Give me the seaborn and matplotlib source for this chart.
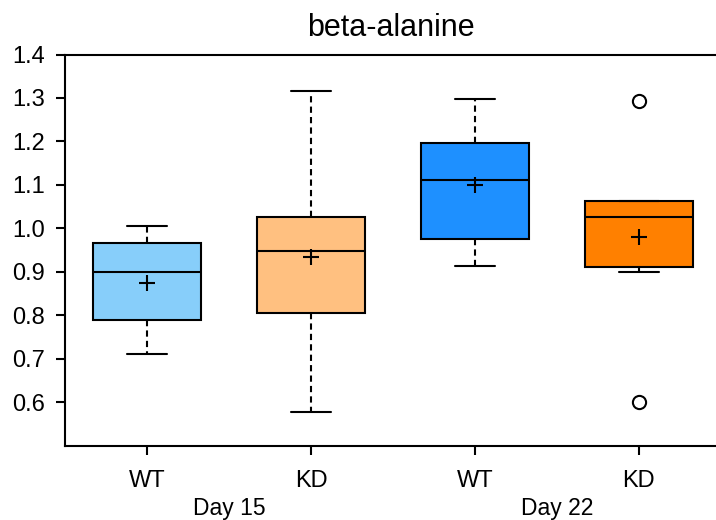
import pandas as pd
import matplotlib.pyplot as plt
import seaborn as sns

# 数据
groups = ['D15_WT', 'D15_KD', 'D22_WT', 'D22_KD']
tick_labels = ['WT', 'KD', 'WT', 'KD']
day_labels = ['Day 15', 'Day 22']
colors = ['#87CEFA', '#FFC080', '#1E90FF', '#FF8000']

d15_wt = [0.71, 0.79, 0.90, 0.965, 1.005]
d15_kd = [0.578, 0.805, 0.948, 1.027, 1.317]
d22_wt = [0.913, 0.975, 1.11, 1.197, 1.298]
d22_kd = [0.60, 0.90, 0.92, 1.025, 1.061, 1.063, 1.292]

values = [d15_wt, d15_kd, d22_wt, d22_kd]
df = pd.DataFrame({
    'group': [g for g, v in zip(groups, values) for _ in v],
    'value': [x for v in values for x in v],
})

sns.set_style('ticks')
plt.rcParams['font.family'] = ['Liberation Sans', 'DejaVu Sans']
plt.rcParams['text.color'] = 'black'
plt.rcParams['xtick.color'] = 'black'
plt.rcParams['ytick.color'] = 'black'

fig = plt.figure(figsize=(7.16, 5.2), dpi=100)
ax = fig.add_axes([65 / 716, 74.5 / 520, 651 / 716, 391 / 520])

sns.boxplot(data=df, x='group', y='value', hue='group', order=groups,
            palette=colors, saturation=1, width=0.66, legend=False,
            linecolor='black', linewidth=1.5, ax=ax,
            showmeans=True,
            meanprops=dict(marker='+', markeredgecolor='black', markersize=12,
                           markeredgewidth=1.5),
            whiskerprops=dict(linestyle=(0, (3, 2))),
            flierprops=dict(marker='o', markerfacecolor='none',
                            markeredgecolor='black', markersize=9.5,
                            markeredgewidth=1.5))

# 缩短须线端帽
for line in ax.lines:
    xd = list(line.get_xdata())
    yd = list(line.get_ydata())
    if len(xd) == 2 and yd[0] == yd[1] and 0.1 < abs(xd[1] - xd[0]) < 0.5:
        c = (xd[0] + xd[1]) / 2
        line.set_xdata([c - 0.12, c + 0.12])

ax.set_xlim(-0.5, 3.47)
ax.set_ylim(0.5, 1.4)
ax.set_yticks([0.6, 0.7, 0.8, 0.9, 1.0, 1.1, 1.2, 1.3, 1.4])
ax.set_yticklabels(['0.6', '0.7', '0.8', '0.9', '1.0', '1.1', '1.2', '1.3', '1.4'])
ax.set_xticks(range(4))
ax.set_xticklabels(tick_labels)
ax.set_xlabel('')
ax.set_ylabel('')
ax.tick_params(labelsize=17, width=1.5, length=6.5, color='black', labelcolor='black')
ax.tick_params(axis='x', pad=11)
ax.tick_params(axis='y', pad=8)
for s in ax.spines.values():
    s.set_linewidth(1.5)
    s.set_color('black')
ax.spines['right'].set_visible(False)

for i, lab in enumerate(day_labels):
    ax.text(2 * i + 0.5, -0.16, lab, transform=ax.get_xaxis_transform(),
            ha='center', va='center', fontsize=16.5)

ax.set_title('beta-alanine', fontsize=22, pad=13)

plt.savefig('out.png', dpi=100)
